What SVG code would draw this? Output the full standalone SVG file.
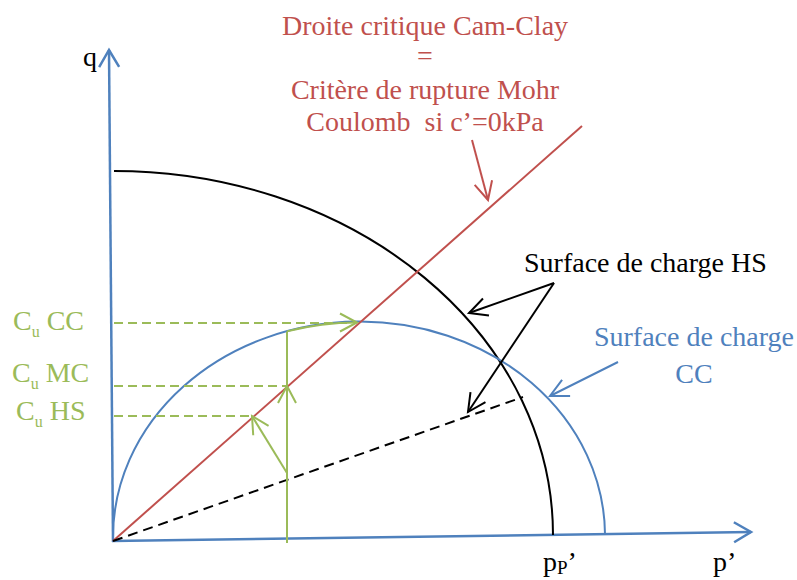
<svg xmlns="http://www.w3.org/2000/svg" width="797" height="580" viewBox="0 0 797 580">
<style>
text{font-family:"Liberation Serif","Times New Roman",serif;font-size:28px}
.red{fill:#C0504D}.blue{fill:#4F81BD}.green{fill:#9BBB59}.blk{fill:#000}
.ln{fill:none;stroke-width:2}
.axis{fill:none;stroke:#4F81BD;stroke-width:2.5}
.gdash{fill:none;stroke:#9BBB59;stroke-width:2;stroke-dasharray:9 5}
</style>
<defs>
<marker id="ah-ax" markerUnits="userSpaceOnUse" markerWidth="40" markerHeight="40" viewBox="-20 -20 40 40" refX="0" refY="0" orient="auto" overflow="visible"><path d="M-17,-10 L0,0 L-17,10" fill="none" stroke="#4F81BD" stroke-width="2.5"/></marker>
<marker id="ah-g" markerUnits="userSpaceOnUse" markerWidth="40" markerHeight="40" viewBox="-20 -20 40 40" refX="0" refY="0" orient="auto" overflow="visible"><path d="M-17,-9 L0,0 L-17,9" fill="none" stroke="#9BBB59" stroke-width="2"/></marker>
<marker id="ah-k" markerUnits="userSpaceOnUse" markerWidth="40" markerHeight="40" viewBox="-20 -20 40 40" refX="0" refY="0" orient="auto" overflow="visible"><path d="M-18,-9 L0,0 L-18,9" fill="none" stroke="#000" stroke-width="2"/></marker>
<marker id="ah-b" markerUnits="userSpaceOnUse" markerWidth="40" markerHeight="40" viewBox="-20 -20 40 40" refX="0" refY="0" orient="auto" overflow="visible"><path d="M-18,-9 L0,0 L-18,9" fill="none" stroke="#4F81BD" stroke-width="2"/></marker>
<marker id="ah-r" markerUnits="userSpaceOnUse" markerWidth="40" markerHeight="40" viewBox="-20 -20 40 40" refX="0" refY="0" orient="auto" overflow="visible"><path d="M-18,-9 L0,0 L-18,9" fill="none" stroke="#C0504D" stroke-width="2"/></marker>
</defs>

<g id="axes">
<line class="axis" x1="113" y1="542" x2="109" y2="50" marker-end="url(#ah-ax)"/>
<line class="axis" x1="112" y1="541" x2="751" y2="532" marker-end="url(#ah-ax)"/>
<text id="label-q" class="blk" x="83" y="66">q</text>
<text id="label-p" class="blk" x="713" y="571">p’</text>
<text id="label-pp" class="blk" x="543" y="571">p<tspan font-size="19" dy="3">P</tspan><tspan dy="-3">’</tspan></text>
</g>

<g id="curves">
<path id="surface-hs" class="ln" stroke="#000" stroke-width="2.5" d="M114,171 A439,364 0 0 1 553,535"/>
<path id="surface-cc" class="ln" stroke="#4F81BD" d="M113,539 A246,215 -0.7 0 1 605,534"/>
<line id="critical-line" class="ln" stroke="#C0504D" x1="113" y1="541" x2="582" y2="126"/>
<line id="hs-path" class="ln" stroke="#000" stroke-dasharray="10 6" x1="113" y1="541" x2="523" y2="397"/>
</g>

<g id="cu-levels">
<line class="gdash" x1="114" y1="323" x2="352" y2="323"/>
<line class="gdash" x1="114" y1="386" x2="287" y2="386"/>
<line class="gdash" x1="114" y1="416" x2="252" y2="416"/>
<text class="green" font-size="26" x="13" y="330">C<tspan font-size="16" dy="7">u</tspan><tspan dy="-7"> CC</tspan></text>
<text class="green" font-size="26" x="12" y="382">C<tspan font-size="16" dy="7">u</tspan><tspan dy="-7"> MC</tspan></text>
<text class="green" font-size="26" x="16" y="420">C<tspan font-size="16" dy="7">u</tspan><tspan dy="-7"> HS</tspan></text>
</g>

<g id="labels">
<g id="label-critical">
<text class="red" text-anchor="middle" x="425" y="35">Droite critique Cam-Clay</text>
<text class="red" text-anchor="middle" x="425" y="65">=</text>
<text class="red" text-anchor="middle" x="425" y="99">Critère de rupture Mohr</text>
<text class="red" text-anchor="middle" x="425" y="131" xml:space="preserve">Coulomb  si c’=0kPa</text>
</g>
<text id="label-hs" class="blk" x="524" y="272">Surface de charge HS</text>
<g id="label-cc">
<text class="blue" text-anchor="middle" x="694" y="346">Surface de charge</text>
<text class="blue" text-anchor="middle" x="694" y="383">CC</text>
</g>
</g>

<g id="connectors">
<line class="ln" stroke="#C0504D" x1="472" y1="140" x2="488" y2="200" marker-end="url(#ah-r)"/>
<line class="ln" stroke="#000" x1="554" y1="283" x2="469" y2="313" marker-end="url(#ah-k)"/>
<line class="ln" stroke="#000" x1="554" y1="283" x2="468" y2="412" marker-end="url(#ah-k)"/>
<line class="ln" stroke="#4F81BD" x1="618" y1="362" x2="550" y2="396" marker-end="url(#ah-b)"/>
<line class="ln" stroke="#9BBB59" x1="287" y1="543" x2="287" y2="331.4"/>
<path class="ln" stroke="#9BBB59" d="M278,403 L287,386 L296,403"/>
<path class="ln" stroke="#9BBB59" d="M287,331.4 A246,215 -0.7 0 1 357,322.5" marker-end="url(#ah-g)"/>
<line class="ln" stroke="#9BBB59" x1="287" y1="473" x2="252" y2="416" marker-end="url(#ah-g)"/>
</g>
</svg>
